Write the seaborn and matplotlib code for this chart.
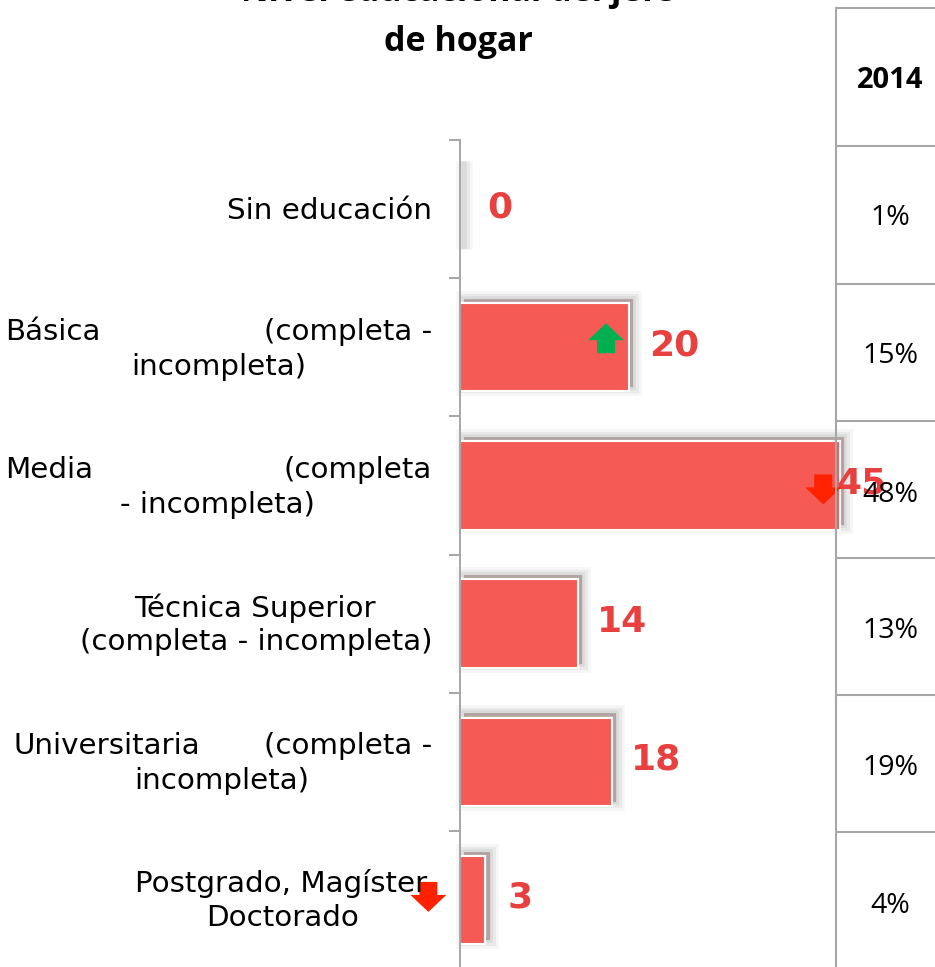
import matplotlib
matplotlib.use("Agg")
import matplotlib.pyplot as plt
import matplotlib.patheffects as pe
from matplotlib.patches import Polygon
from matplotlib.transforms import Affine2D, ScaledTranslation
import seaborn as sns
import pandas as pd

# data
categories = ["Sin educación", "Básica (completa - incompleta)", "Media (completa - incompleta)",
              "Técnica Superior (completa - incompleta)", "Universitaria (completa - incompleta)",
              "Postgrado, Magíster Doctorado"]
values = [0, 20, 45, 14, 18, 3]
pct_2014 = ["1%", "15%", "48%", "13%", "19%", "4%"]
trend = [None, "up", "down", None, None, "down"]
year_label = "2014"
title_lines = ["Nivel educacional del jefe", "de hogar"]

bar_color = "#F55A55"
txt_color = "#E8403F"
grid_gray = "#A6A6A6"

sns.set_style("white")
plt.rcParams['font.family'] = ['DejaVu Sans']
plt.rcParams['text.color'] = 'black'

W, H = 935, 967
fig = plt.figure(figsize=(W / 100, H / 100), dpi=100)

# main bar axes (pixel layout: spine at x=460, bands from y=140 down)
px_per_unit = 8.45
ax = fig.add_axes([460 / W, 1 - 969 / H, 475 / W, 829 / H])
df = pd.DataFrame({"nivel": categories, "valor": values})
sns.barplot(data=df, x="valor", y="nivel", orient="h", color=bar_color, saturation=1,
            width=0.64, edgecolor="white", linewidth=1.5, ax=ax)
ax.set_xlim(0, 475 / px_per_unit)
ax.set_ylim(5.5, -0.5)
ax.set_xlabel("")
ax.set_ylabel("")
ax.set_xticks([])
ax.set_yticks(range(len(categories)))
ax.set_yticklabels([""] * len(categories))
ax.set_yticks([i - 0.5 for i in range(len(categories) + 1)], minor=True)
ax.tick_params(axis="y", which="major", length=0)
ax.tick_params(axis="y", which="minor", length=8, width=1.4, color=grid_gray, direction="out", left=True)
for s in ["top", "right", "bottom"]:
    ax.spines[s].set_visible(False)
ax.spines["left"].set_color(grid_gray)
ax.spines["left"].set_linewidth(1.4)

# soft blurred shadow up-right of every bar
for bar in ax.patches:
    bar.set_path_effects([
        pe.Stroke(offset=(3, 3), linewidth=12, foreground="black", alpha=0.035),
        pe.Stroke(offset=(3, 3), linewidth=8, foreground="black", alpha=0.05),
        pe.Stroke(offset=(3, 3), linewidth=4, foreground="black", alpha=0.06),
        pe.SimplePatchShadow(offset=(3, 3), shadow_rgbFace="black", alpha=0.18),
        pe.Normal()])
    bar.set_clip_on(False)

# value labels, pixel gap to the right of each bar end
label_gap = [27, 20, -4, 19, 19, 22]
for i, v in enumerate(values):
    ax.annotate(str(v), xy=(v, i), xytext=(label_gap[i], 2), textcoords="offset pixels",
                ha="left", va="center", fontsize=26, fontweight="bold", color=txt_color,
                annotation_clip=False, zorder=4)

# trend arrows (pixel shapes anchored at data points)
up_shape = [(0, 15), (18, -2), (9, -2), (9, -15), (-9, -15), (-9, -2), (-18, -2)]
arrow_dx = {1: -23, 2: -17, 5: -57}   # pixel offset from bar end
arrow_dy = {1: 9, 2: -4, 5: 3}        # pixel offset from band center (up positive)
for i, t in enumerate(trend):
    if t is None:
        continue
    pts = up_shape if t == "up" else [(x, -y) for x, y in up_shape]
    tr = Affine2D().translate(arrow_dx[i], arrow_dy[i]) + ScaledTranslation(values[i], i, ax.transData)
    ax.add_patch(Polygon(pts, closed=True, transform=tr, clip_on=False, zorder=5,
                         facecolor="#00B050" if t == "up" else "#FF2200", edgecolor="none"))

# overlay in pixel coordinates for title, labels and side table
ov = fig.add_axes([0, 0, 1, 1], zorder=3)
ov.set_xlim(0, W)
ov.set_ylim(H, 0)
ov.axis("off")
ov.patch.set_visible(False)

ov.text(458, 1, title_lines[0], ha="center", va="baseline", fontsize=24.5, fontweight="bold",
        family="Open Sans", color="black")
ov.text(458, 51, title_lines[1], ha="center", va="baseline", fontsize=24.5, fontweight="bold",
        family="Open Sans", color="black")

# justified-looking category labels
label_pieces = [
    [("Sin educación", 432, "right", 211)],
    [("Básica", 5, "left", 332), ("(completa -", 432, "right", 332), ("incompleta)", 219, "center", 367)],
    [("Media", 5, "left", 470), ("(completa", 432, "right", 470), ("- incompleta)", 217, "center", 505)],
    [("Técnica Superior", 255, "center", 608), ("(completa - incompleta)", 432, "right", 642)],
    [("Universitaria", 14, "left", 746), ("(completa -", 432, "right", 746), ("incompleta)", 222, "center", 781)],
    [("Postgrado, Magíster", 135, "left", 884), ("Doctorado", 283, "center", 918)],
]
for pieces in label_pieces:
    for txt, x, ha, y in pieces:
        ov.text(x, y, txt, ha=ha, va="center", fontsize=21.2, color="black")

# side table
ov.plot([836, 836], [8, H], color=grid_gray, lw=1.5)
for y in [8, 146, 284, 421, 558, 695, 832]:
    ov.plot([836, W], [y, y], color=grid_gray, lw=1.5)
ov.text(890, 80, year_label, ha="center", va="center", fontsize=21, fontweight="bold",
        family="Open Sans", color="black")
for y, p in zip([218, 356, 495, 631, 768, 906], pct_2014):
    ov.text(890, y, p, ha="center", va="center", fontsize=20.5, family="Open Sans", color="black")

fig.savefig("out.png", dpi=100)
